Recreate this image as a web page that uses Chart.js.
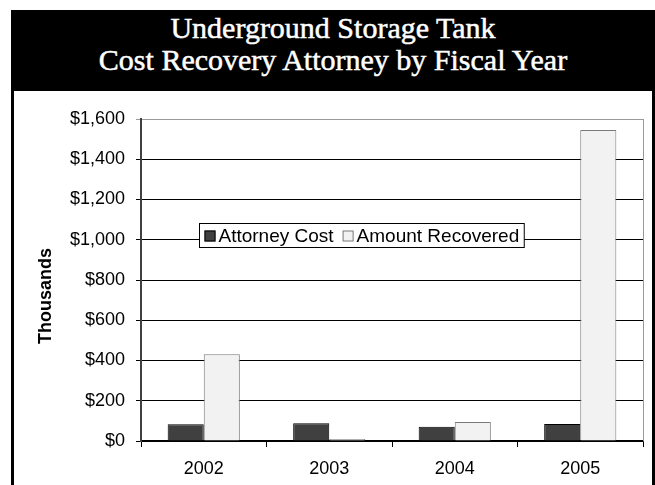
<!DOCTYPE html>
<html>
<head>
<meta charset="utf-8">
<script src="https://cdn.jsdelivr.net/npm/chart.js@4/dist/chart.umd.min.js"></script>
<style>
  html, body { margin: 0; padding: 0; background: #fff; width: 655px; height: 485px; overflow: hidden; }
  #band {
    position: absolute; left: 11px; top: 10px; width: 644px; height: 81px;
    background: #000; color: #fff; text-align: center;
    font-family: "Liberation Serif", "Times New Roman", serif; font-size: 30px; line-height: 32px;
    -webkit-text-stroke: 0.5px #fff;
    box-sizing: border-box; padding-top: 2px;
  }
  #frame {
    position: absolute; left: 11px; top: 91px; width: 644px; height: 400px;
    border-left: 3px solid #000; border-right: 3px solid #000; box-sizing: border-box;
  }
  #chart { position: absolute; left: 14px; top: 91px; }
</style>
</head>
<body>
<div id="band">Underground Storage Tank<br>Cost Recovery Attorney by Fiscal Year</div>
<div id="frame"></div>
<canvas id="chart" width="638" height="394" style="width:638px;height:394px"></canvas>
<script>
// Fiscal years and amounts, in thousands of dollars
const years = ['2002', '2003', '2004', '2005'];
const attorneyCost = [83, 88, 71, 84];
const amountRecovered = [431, 10, 94, 1545];
const seriesNames = ['Attorney Cost', 'Amount Recovered'];
const axisTitle = 'Thousands';

const FONT = '"Liberation Sans", Arial, sans-serif';

// Gray outline on the right side of the plot area
const plotFrame = {
  id: 'plotFrame',
  beforeDatasetsDraw(chart) {
    const { ctx, chartArea: a } = chart;
    ctx.save();
    ctx.strokeStyle = '#9a9a9a';
    ctx.lineWidth = 1;
    ctx.beginPath();
    ctx.moveTo(Math.round(a.right) + 0.5, a.top);
    ctx.lineTo(Math.round(a.right) + 0.5, a.bottom);
    ctx.stroke();
    ctx.restore();
  }
};

// Rotated value-axis caption
const valueCaption = {
  id: 'valueCaption',
  afterDraw(chart) {
    const { ctx, chartArea: a } = chart;
    ctx.save();
    ctx.translate(a.left - 95, (a.top + a.bottom) / 2 + 16);
    ctx.rotate(-Math.PI / 2);
    ctx.font = 'bold 18px ' + FONT;
    ctx.fillStyle = '#000';
    ctx.textAlign = 'center';
    ctx.textBaseline = 'middle';
    ctx.fillText(axisTitle, 0, 0);
    ctx.restore();
  }
};

// Boxed legend sitting inside the plot area
const boxedLegend = {
  id: 'boxedLegend',
  afterDraw(chart) {
    const { ctx, chartArea: a } = chart;
    const sets = chart.data.datasets;
    ctx.save();
    ctx.font = '19px ' + FONT;
    const sw = 11, gap = 3, itemGap = 9, padL = 5, padR = 5;
    let w = padL + padR;
    sets.forEach((d, i) => {
      w += sw + gap + ctx.measureText(d.label).width + (i < sets.length - 1 ? itemGap : 0);
    });
    const x0 = Math.round(a.left + 58) + 0.5, y0 = Math.round(a.top + 104) + 0.5, h = 24;
    ctx.fillStyle = '#fff';
    ctx.fillRect(x0, y0, w, h);
    ctx.strokeStyle = '#000';
    ctx.lineWidth = 1;
    ctx.strokeRect(x0, y0, w, h);
    let x = x0 + padL;
    const cy = y0 + h / 2;
    sets.forEach((d) => {
      ctx.fillStyle = d.backgroundColor;
      ctx.fillRect(x, cy - 5, sw, 11);
      ctx.strokeStyle = d.borderColor;
      ctx.strokeRect(x + 0.5, cy - 4.5, sw - 1, 10);
      x += sw + gap;
      ctx.fillStyle = '#000';
      ctx.textAlign = 'left';
      ctx.textBaseline = 'middle';
      ctx.fillText(d.label, x, cy + 1);
      x += ctx.measureText(d.label).width + itemGap;
    });
    ctx.restore();
  }
};

new Chart(document.getElementById('chart'), {
  type: 'bar',
  data: {
    labels: years,
    datasets: [
      {
        label: seriesNames[0],
        data: attorneyCost,
        backgroundColor: '#404040',
        borderColor: '#000000',
        borderWidth: 1,
        barPercentage: 1,
        categoryPercentage: 0.575
      },
      {
        label: seriesNames[1],
        data: amountRecovered,
        backgroundColor: '#f2f2f2',
        borderColor: '#7a7a7a',
        borderWidth: 1,
        barPercentage: 1,
        categoryPercentage: 0.575
      }
    ]
  },
  options: {
    responsive: false,
    animation: false,
    layout: { padding: { left: 0, top: 28, right: 9, bottom: 0 } },
    plugins: {
      legend: { display: false },
      tooltip: { enabled: false },
      title: { display: false }
    },
    scales: {
      x: {
        afterFit(s) { s.height = 44; },
        grid: {
          offset: true,
          drawOnChartArea: false,
          drawTicks: true,
          tickLength: 6,
          color: '#000'
        },
        border: { display: true, color: '#000', width: 1.5 },
        ticks: { color: '#000', padding: 11, font: { family: FONT, size: 18 } }
      },
      y: {
        min: 0,
        max: 1600,
        afterFit(s) { s.width = 127; },
        grid: {
          drawTicks: true,
          tickLength: 5,
          color: (c) => (c.tick && c.tick.value === 1600 ? '#9a9a9a' : '#000'),
          lineWidth: 1
        },
        border: { display: true, color: '#404040', width: 2 },
        ticks: {
          stepSize: 200,
          padding: 11,
          color: '#000',
          font: { family: FONT, size: 18 },
          callback: (v) => '$' + Number(v).toLocaleString('en-US')
        }
      }
    }
  },
  plugins: [plotFrame, boxedLegend, valueCaption]
});
</script>
</body>
</html>
